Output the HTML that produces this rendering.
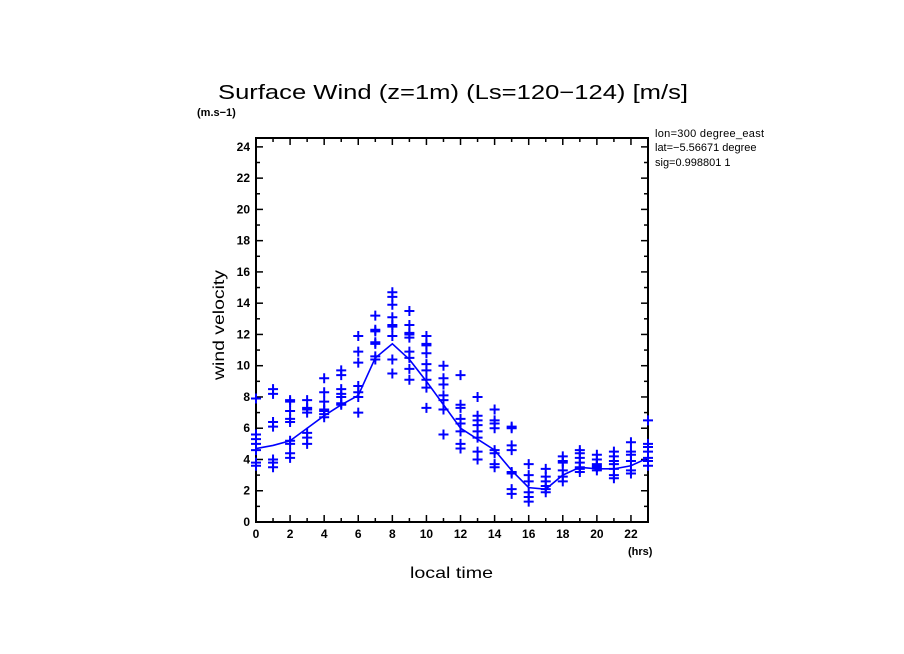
<!DOCTYPE html>
<html><head><meta charset="utf-8"><style>
html,body{margin:0;padding:0;background:#fff;}
svg{display:block;font-family:"Liberation Sans",sans-serif;}
</style></head><body>
<svg id="chart" width="904" height="654" viewBox="0 0 904 654" xmlns="http://www.w3.org/2000/svg">
<defs><clipPath id="infoclip"><rect x="650" y="120" width="129" height="60"/></clipPath></defs>
<text x="218" y="99" textLength="470" lengthAdjust="spacingAndGlyphs" font-size="20" fill="#000">Surface Wind (z=1m) (Ls=120−124) [m/s]</text>
<text x="197" y="116" font-size="11" font-weight="bold" fill="#000">(m.s−1)</text>
<text x="628" y="555" font-size="11" font-weight="bold" fill="#000">(hrs)</text>
<text x="410" y="578" textLength="83" lengthAdjust="spacingAndGlyphs" font-size="16" fill="#000">local time</text>
<text x="224" y="325" text-anchor="middle" textLength="110" lengthAdjust="spacingAndGlyphs" font-size="16" fill="#000" transform="rotate(-90 224 325)">wind velocity</text>
<g font-size="11" fill="#000" clip-path="url(#infoclip)">
<text x="655" y="137" letter-spacing="0.3">lon=300 degree_east</text>
<text x="655" y="151">lat=−5.56671 degree</text>
<text x="655" y="166">sig=0.998801 1</text>
</g>
<g id="axes"></g>
<g id="marks"></g>
</svg>
<script>
const hours = [0,1,2,3,4,5,6,7,8,9,10,11,12,13,14,15,16,17,18,19,20,21,22,23];
const meanWind = [4.7,4.9,5.2,6.0,6.8,7.5,8.1,10.5,11.4,10.4,9.0,7.5,6.0,5.3,4.6,3.3,2.2,2.1,3.0,3.5,3.4,3.4,3.6,4.1];
const samples = [
[7.9,5.6,5.3,5.0,4.6,3.8,3.6],
[8.5,8.2,6.4,6.1,4.0,3.8,3.5],
[7.8,7.7,7.1,6.6,6.4,5.2,5.0,4.4,4.1],
[7.8,7.3,7.2,7.0,5.7,5.4,5.0],
[9.2,8.3,7.7,7.2,7.1,6.9,6.7],
[9.7,9.4,8.5,8.2,8.0,7.6,7.5],
[11.9,10.9,10.2,8.7,8.3,8.0,7.0],
[13.2,12.3,12.2,11.5,11.4,10.6,10.4],
[14.7,14.4,13.9,13.1,12.6,12.5,11.9,10.4,9.5],
[13.5,12.6,12.1,12.0,11.8,10.9,10.5,9.8,9.1],
[11.9,11.4,11.3,10.8,10.1,9.7,9.1,8.6,7.3],
[10.0,9.2,8.8,8.1,7.8,7.2,5.6],
[9.4,7.5,7.3,6.6,6.3,5.8,5.0,4.7],
[8.0,6.8,6.5,6.2,5.8,5.4,4.5,4.0],
[7.2,6.5,6.3,6.0,4.6,4.4,3.7,3.5],
[6.1,6.0,4.9,4.6,3.2,3.1,2.1,1.8],
[3.7,3.0,2.6,1.9,1.6,1.3],
[3.4,2.9,2.6,2.3,2.1,1.9],
[4.2,3.9,3.8,3.3,2.9,2.6],
[4.6,4.4,4.1,3.8,3.5,3.4,3.2],
[4.3,4.0,3.7,3.6,3.5,3.3],
[4.5,4.2,3.9,3.7,3.4,3.0,2.8],
[5.1,4.5,4.3,3.9,3.3,3.1],
[6.5,5.0,4.8,4.5,4.1,3.9,3.6]
];
const xTicks = [0,2,4,6,8,10,12,14,16,18,20,22];
const yTicks = [0,2,4,6,8,10,12,14,16,18,20,22,24];

const X0=256, X1=648, Y0=522, YT=138;
const xs = h => X0 + h*(X1-X0)/23;
const ys = v => Y0 - v*15.63;
const NS="http://www.w3.org/2000/svg";
function mk(tag, attrs, parent){const e=document.createElementNS(NS,tag);for(const k in attrs)e.setAttribute(k,attrs[k]);parent.appendChild(e);return e;}
const axes=document.getElementById('axes'), marks=document.getElementById('marks');

const frame=mk('rect',{x:X0,y:YT,width:X1-X0,height:Y0-YT,fill:'none',stroke:'#000','stroke-width':2},axes);



for(let h=0;h<=23;h++){
  const len = h%2===0?7:4;
  const t1=mk('line',{x1:xs(h),x2:xs(h),y1:Y0,y2:Y0-len,stroke:'#000','stroke-width':1.5},axes);
  
  
  const t2=mk('line',{x1:xs(h),x2:xs(h),y1:YT,y2:YT+len,stroke:'#000','stroke-width':1.5},axes);
  
  
}
xTicks.forEach(h=>{
  const t=mk('text',{x:xs(h),y:Y0+16,'text-anchor':'middle','font-size':12,'font-weight':'bold',fill:'#000'},axes);
  t.textContent=h;
  
  
});
for(let v=0;v<=24;v++){
  const len = v%2===0?7:4;
  const t1=mk('line',{x1:X0,x2:X0+len,y1:ys(v),y2:ys(v),stroke:'#000','stroke-width':1.5},axes);
  
  
  const t2=mk('line',{x1:X1,x2:X1-len,y1:ys(v),y2:ys(v),stroke:'#000','stroke-width':1.5},axes);
  
  
}
yTicks.forEach(v=>{
  const t=mk('text',{x:X0-6,y:ys(v)+4,'text-anchor':'end','font-size':12,'font-weight':'bold',fill:'#000'},axes);
  t.textContent=v;
  
  
});

const pl=mk('polyline',{points:hours.map((h,i)=>xs(h)+','+ys(meanWind[i])).join(' '),fill:'none',stroke:'#0000ff','stroke-width':1.6},marks);



samples.forEach((arr,i)=>{
  arr.forEach(v=>{
    const cx=xs(hours[i]), cy=ys(v);
    const p=mk('path',{d:`M${cx-5},${cy}H${cx+5}M${cx},${cy-5}V${cy+5}`,stroke:'#0000ff','stroke-width':2,fill:'none'},marks);
    
    
  });
});
</script>
</body></html>
